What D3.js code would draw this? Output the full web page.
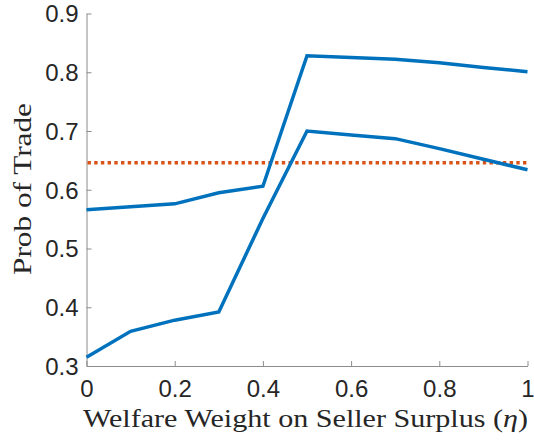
<!DOCTYPE html>
<html><head><meta charset="utf-8">
<script src="https://cdn.jsdelivr.net/npm/d3@7"></script>
<style>body{margin:0;background:#fff}svg{display:block}</style>
</head><body>
<svg id="c" width="534" height="441"></svg>
<script>
const eta = [0,0.1,0.2,0.3,0.4,0.5,0.6,0.7,0.8,0.9,1.0];
const upperProb = [0.566,0.571,0.576,0.595,0.606,0.828,0.825,0.822,0.816,0.808,0.801];
const lowerProb = [0.315,0.359,0.378,0.392,0.551,0.700,0.693,0.687,0.670,0.652,0.634];
const benchmark = 0.646;
const xTicks = [0,0.2,0.4,0.6,0.8,1];
const xTickLabels = ["0","0.2","0.4","0.6","0.8","1"];
const yTicks = [0.3,0.4,0.5,0.6,0.7,0.8,0.9];
const yTickLabels = ["0.3","0.4","0.5","0.6","0.7","0.8","0.9"];

const svg = d3.select("#c");
const L=86.5, R=527.5, T=13.5, B=366;
const x = d3.scaleLinear().domain([0,1]).range([L,R]);
const y = d3.scaleLinear().domain([0.3,0.9]).range([B,T]);
const axisCol="#262626";

// axes
const gx = svg.append("g").attr("transform",`translate(0,${B})`)
  .call(d3.axisBottom(x).tickValues(xTicks).tickFormat((d,i)=>xTickLabels[i]).tickSizeInner(-5).tickSizeOuter(0).tickPadding(14));
const gy = svg.append("g").attr("transform",`translate(${L},0)`)
  .call(d3.axisLeft(y).tickValues(yTicks).tickFormat((d,i)=>yTickLabels[i]).tickSizeInner(-5).tickSizeOuter(0).tickPadding(8));
[gx,gy].forEach(g=>{
  g.select(".domain").attr("stroke","#8c8c8c").attr("stroke-width",1);
  g.selectAll(".tick line").attr("stroke","#8c8c8c").attr("stroke-width",1);
  g.selectAll(".tick text").attr("fill",axisCol).style("font-family","'Liberation Sans', Arial, sans-serif").style("font-size","24px");
});
gx.selectAll(".tick text").attr("dy","0.71em");
gy.selectAll(".tick text").attr("dy","0.35em");

// benchmark line
svg.append("line").attr("x1",x(0)+1).attr("x2",x(1)).attr("y1",y(benchmark)).attr("y2",y(benchmark))
  .attr("stroke","#D95319").attr("stroke-width",3.3).attr("stroke-dasharray","3.4,3.3");

const line = d3.line().x((d,i)=>x(eta[i])).y(d=>y(d));
[upperProb,lowerProb].forEach(s=>{
  svg.append("path").attr("d",line(s)).attr("fill","none").attr("stroke","#0072BD")
    .attr("stroke-width",3.5).attr("stroke-linejoin","miter");
});

// labels
const xl = svg.append("text").attr("x",305.5).attr("y",427).attr("text-anchor","middle")
  .attr("fill",axisCol).style("font-family","'Liberation Serif', 'DejaVu Serif', serif").style("font-size","25px")
  .attr("textLength",445).attr("lengthAdjust","spacingAndGlyphs");
xl.append("tspan").text("Welfare Weight on Seller Surplus (");
xl.append("tspan").style("font-style","italic").text("η");
xl.append("tspan").text(")");

svg.append("text").attr("transform","translate(31,189) rotate(-90)").attr("text-anchor","middle")
  .attr("fill",axisCol).style("font-family","'Liberation Serif', 'DejaVu Serif', serif").style("font-size","26px")
  .attr("textLength",172).attr("lengthAdjust","spacingAndGlyphs")
  .text("Prob of Trade");
</script>
</body></html>
